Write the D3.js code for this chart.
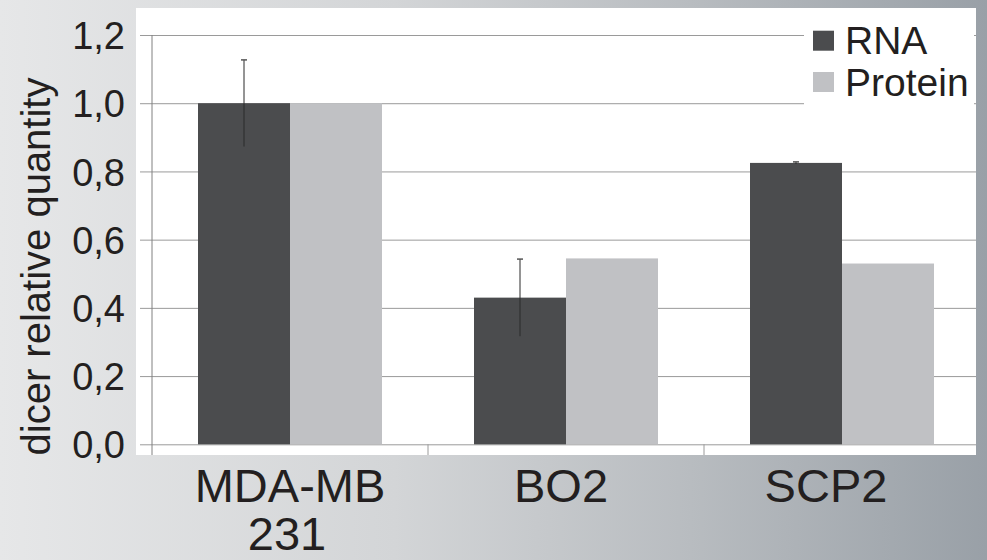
<!DOCTYPE html>
<html>
<head>
<meta charset="utf-8">
<script src="https://cdn.jsdelivr.net/npm/d3@7"></script>
<style>
  html, body { margin: 0; padding: 0; background: #ffffff; }
  svg { display: block; }
  text { font-family: "Liberation Sans", Arial, Helvetica, sans-serif; fill: #231f20; }
</style>
</head>
<body>
<svg id="chart" width="987" height="560"></svg>
<script>
// ---- data ----
const categories = ["MDA-MB 231", "BO2", "SCP2"];
const categoryLines = [["MDA-MB", "231"], ["BO2"], ["SCP2"]];
const series = ["RNA", "Protein"];
const rnaValues = [1.0, 0.43, 0.825];
const proteinValues = [1.0, 0.545, 0.53];
const rnaErrors = [0.127, 0.113, 0.003];
const yTicks = [0.0, 0.2, 0.4, 0.6, 0.8, 1.0, 1.2];
const yTitle = "dicer relative quantity";

const colors = { RNA: "#4b4c4e", Protein: "#c0c1c4" };

const svg = d3.select("#chart");
const W = 987, H = 560;

// background gradient
const defs = svg.append("defs");
const grad = defs.append("linearGradient").attr("id", "bg").attr("x1", "0").attr("x2", "1").attr("y1", "0").attr("y2", "0");
[["0%", "#e6e7e8"], ["40%", "#d3d5d7"], ["70%", "#b8bcc0"], ["100%", "#99a0a7"]]
  .forEach(([o, c]) => grad.append("stop").attr("offset", o).attr("stop-color", c));
svg.append("rect").attr("width", W).attr("height", H).attr("fill", "url(#bg)");

// white plot panel
const panel = { x0: 136, x1: 976, y0: 8, y1: 455 };
svg.append("rect").attr("x", panel.x0).attr("y", panel.y0)
  .attr("width", panel.x1 - panel.x0).attr("height", panel.y1 - panel.y0).attr("fill", "#ffffff");

// scales
const axisX = 152;
const y = d3.scaleLinear().domain([0, 1.2]).range([444.3, 35]);
const x = d3.scaleBand().domain(categories).range([axisX, 980]).padding(0);
const x1 = d3.scaleBand().domain(series).range([0, x.bandwidth()]).paddingInner(0).paddingOuter(0.5);

// gridlines + tick labels
const gridLeft = 140;
const yAxis = d3.axisLeft(y).tickValues(yTicks)
  .tickFormat(d => d3.format(".1f")(d).replace(".", ","))
  .tickSizeInner(-(panel.x1 - gridLeft)).tickSizeOuter(0).tickPadding(15);
const gy = svg.append("g").attr("transform", `translate(${gridLeft},0)`).call(yAxis);
gy.select(".domain").remove();
gy.selectAll(".tick line").attr("stroke", "#9a9a9a").attr("stroke-width", 1);
gy.selectAll(".tick text").attr("font-size", 38).attr("fill", "#231f20").attr("dy", "0.36em")
  .attr("font-family", "'Liberation Sans', Arial, sans-serif");

// bars
const rows = categories.map((c, i) => ({ cat: c, RNA: rnaValues[i], Protein: proteinValues[i], err: rnaErrors[i] }));
const groups = svg.append("g").selectAll("g").data(rows).join("g")
  .attr("transform", d => `translate(${x(d.cat)},0)`);
groups.selectAll("rect").data(d => series.map(s => ({ s, v: d[s] }))).join("rect")
  .attr("x", d => x1(d.s)).attr("width", x1.bandwidth())
  .attr("y", d => y(d.v)).attr("height", d => y(0) - y(d.v))
  .attr("fill", d => colors[d.s]);

// axis lines
svg.append("line").attr("x1", axisX).attr("x2", axisX).attr("y1", y(1.2)).attr("y2", panel.y1)
  .attr("stroke", "#808080").attr("stroke-width", 1);
svg.append("g").selectAll("line").data(categories.slice(1)).join("line")
  .attr("x1", d => x(d)).attr("x2", d => x(d)).attr("y1", y(0)).attr("y2", panel.y1)
  .attr("stroke", "#9a9a9a").attr("stroke-width", 1);

// error bars (RNA)
const eb = groups.append("g");
eb.append("line")
  .attr("x1", d => x1("RNA") + x1.bandwidth() / 2).attr("x2", d => x1("RNA") + x1.bandwidth() / 2)
  .attr("y1", d => y(d.RNA - d.err)).attr("y2", d => y(d.RNA + d.err))
  .attr("stroke", "#2b2b2b").attr("stroke-width", 1);
eb.append("line")
  .attr("x1", d => x1("RNA") + x1.bandwidth() / 2 - 3).attr("x2", d => x1("RNA") + x1.bandwidth() / 2 + 3)
  .attr("y1", d => y(d.RNA + d.err)).attr("y2", d => y(d.RNA + d.err))
  .attr("stroke", "#555").attr("stroke-width", 1.5);

// category labels
const labelShift = { "MDA-MB 231": 0, "BO2": -5, "SCP2": -16 };
const xl = svg.append("g").selectAll("text").data(categories).join("text")
  .attr("x", d => x(d) + x.bandwidth() / 2 + labelShift[d])
  .attr("y", 501.5).attr("text-anchor", "middle").attr("font-size", 47);
xl.each(function (d, i) {
  const t = d3.select(this);
  categoryLines[i].forEach((ln, j) => {
    t.append("tspan").attr("x", x(d) + x.bandwidth() / 2 + labelShift[d] - (j > 0 ? 3 : 0))
      .attr("dy", j === 0 ? 0 : 48).text(ln);
  });
});

// y title
svg.append("text").attr("transform", "translate(50,266.5) rotate(-90)")
  .attr("text-anchor", "middle").attr("font-size", 40).text(yTitle);

// legend
const leg = svg.append("g");
leg.append("rect").attr("x", 804).attr("y", 18).attr("width", 170).attr("height", 88).attr("fill", "#ffffff");
const li = leg.selectAll("g").data(series).join("g")
  .attr("transform", (d, i) => `translate(813,${i === 0 ? 30.7 : 72})`);
li.append("rect").attr("width", 21).attr("height", 20).attr("fill", d => colors[d]);
li.append("text").attr("x", 32).attr("y", 23.5).attr("font-size", 39).text(d => d);
</script>
</body>
</html>
